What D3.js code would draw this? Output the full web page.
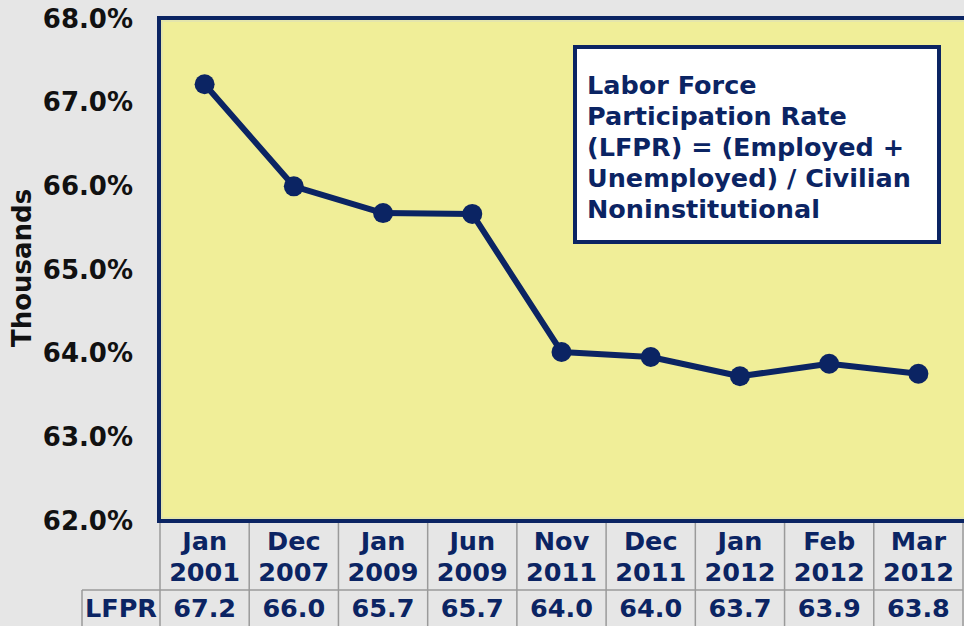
<!DOCTYPE html>
<html>
<head>
<meta charset="utf-8">
<script src="https://cdn.jsdelivr.net/npm/d3@7"></script>
<style>
  body { margin: 0; background: #e6e6e6; }
  svg { display: block; }
  text { font-family: "DejaVu Sans", Verdana, sans-serif; font-weight: bold; }
</style>
</head>
<body>
<svg id="chart"></svg>
<script>
// values
const months = ['Jan', 'Dec', 'Jan', 'Jun', 'Nov', 'Dec', 'Jan', 'Feb', 'Mar'];
const years = ['2001', '2007', '2009', '2009', '2011', '2011', '2012', '2012', '2012'];
const lfpr = [67.22, 66.0, 65.68, 65.67, 64.02, 63.96, 63.73, 63.88, 63.76];
const lfprLabels = ['67.2', '66.0', '65.7', '65.7', '64.0', '64.0', '63.7', '63.9', '63.8'];
const yTicks = [62, 63, 64, 65, 66, 67, 68];
const noteLines = ['Labor Force', 'Participation Rate', '(LFPR) = (Employed +', 'Unemployed) / Civilian', 'Noninstitutional'];

const W = 964, H = 626;
const navy = '#0b2463';
const plot = { left: 159, right: 962, top: 18, bottom: 521 };

const svg = d3.select('#chart').attr('width', W).attr('height', H);

const ids = months.map((m, i) => i);
const x = d3.scaleBand()
    .domain(ids)
    .range([plot.left + 1, 963]);

const y = d3.scaleLinear()
    .domain([62, 68])
    .range([plot.bottom, 19]);

// plot background and frame
svg.append('rect')
    .attr('x', plot.left).attr('y', plot.top)
    .attr('width', plot.right - plot.left + 6).attr('height', plot.bottom - plot.top)
    .attr('fill', '#f0ee98')
    .attr('stroke', navy)
    .attr('stroke-width', 4);
// thin light inner rule of the frame
svg.append('rect')
    .attr('x', plot.left + 3).attr('y', plot.top + 3)
    .attr('width', plot.right - plot.left).attr('height', plot.bottom - plot.top - 6)
    .attr('fill', 'none')
    .attr('stroke', '#d8dcc0')
    .attr('stroke-width', 1);

// y axis
const yAxis = svg.append('g')
    .attr('transform', `translate(${plot.left - 23},0)`)
    .call(d3.axisLeft(y).tickValues(yTicks).tickSize(0).tickFormat(d => d.toFixed(1) + '%'));
yAxis.select('.domain').remove();
yAxis.selectAll('text')
    .attr('fill', '#111')
    .style('font-size', '26px')
    .style('font-family', '"DejaVu Sans", Verdana, sans-serif')
    .style('font-weight', 'bold');

svg.append('text')
    .attr('transform', 'translate(31,268) rotate(-90)')
    .attr('text-anchor', 'middle')
    .attr('fill', '#111')
    .style('font-size', '26px')
    .text('Thousands');

// line + markers
const line = d3.line()
    .x((d, i) => x(i) + x.bandwidth() / 2)
    .y(d => y(d));

svg.append('path')
    .datum(lfpr)
    .attr('d', line)
    .attr('fill', 'none')
    .attr('stroke', navy)
    .attr('stroke-width', 6)
    .attr('stroke-linejoin', 'round');

svg.selectAll('circle.pt')
    .data(lfpr)
    .enter().append('circle')
    .attr('class', 'pt')
    .attr('cx', (d, i) => x(i) + x.bandwidth() / 2)
    .attr('cy', d => y(d))
    .attr('r', 10)
    .attr('fill', navy);

// note box
const note = svg.append('g');
note.append('rect')
    .attr('x', 575).attr('y', 47)
    .attr('width', 364).attr('height', 195)
    .attr('fill', '#fff')
    .attr('stroke', navy)
    .attr('stroke-width', 4);
note.selectAll('text')
    .data(noteLines)
    .enter().append('text')
    .attr('x', 587)
    .attr('y', (d, i) => 94 + i * 31)
    .attr('fill', navy)
    .style('font-size', '25.5px')
    .text(d => d);

// data table
const grid = '#9a9a9a';
const tbl = svg.append('g');
const rowTop = plot.bottom + 2, rowMid = 590;

tbl.selectAll('line.v')
    .data(ids.concat([ids.length]))
    .enter().append('line')
    .attr('x1', d => d < ids.length ? x(d) : x(d - 1) + x.bandwidth())
    .attr('x2', d => d < ids.length ? x(d) : x(d - 1) + x.bandwidth())
    .attr('y1', rowTop).attr('y2', H)
    .attr('stroke', grid).attr('stroke-width', 1.5);

tbl.append('line')
    .attr('x1', 82).attr('x2', 963)
    .attr('y1', rowMid).attr('y2', rowMid)
    .attr('stroke', grid).attr('stroke-width', 1.5);
tbl.append('line')
    .attr('x1', 82).attr('x2', 82)
    .attr('y1', rowMid).attr('y2', H)
    .attr('stroke', grid).attr('stroke-width', 1.5);

const cell = tbl.selectAll('g.cell')
    .data(ids)
    .enter().append('g')
    .attr('class', 'cell')
    .attr('transform', d => `translate(${x(d) + x.bandwidth() / 2},0)`);

cell.append('text').attr('y', 550).text(d => months[d]);
cell.append('text').attr('y', 581).text(d => years[d]);
cell.append('text').attr('y', 617).text(d => lfprLabels[d]);
cell.selectAll('text')
    .attr('text-anchor', 'middle')
    .attr('fill', navy)
    .style('font-size', '25.5px');

tbl.append('text')
    .attr('x', 121).attr('y', 617)
    .attr('text-anchor', 'middle')
    .attr('fill', navy)
    .style('font-size', '25.5px')
    .text('LFPR');
</script>
</body>
</html>
